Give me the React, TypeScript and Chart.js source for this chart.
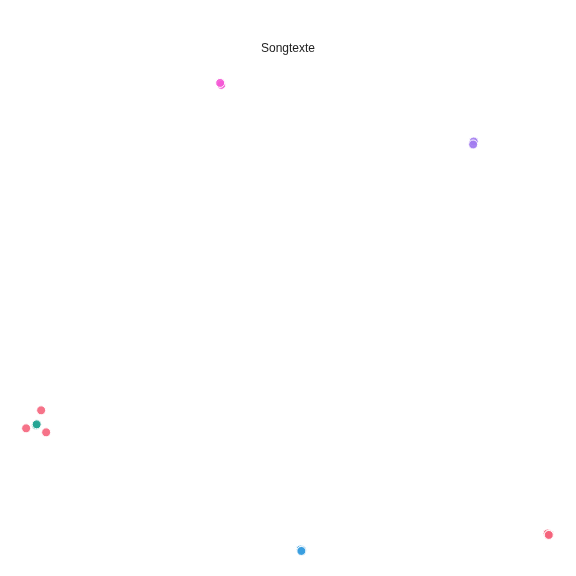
import React, { useEffect, useRef } from "react";
import { Chart, registerables } from "chart.js";

Chart.register(...registerables);

const titleText = "Songtexte";

const groupNames = ["Rot", "Türkis", "Blau", "Lila", "Pink"];
const groupColors = ["#f5647c", "#22a493", "#3a9fe0", "#a27cf0", "#f55ad6"];

const redX = [5.6, 2.9, 6.5, 96.7, 97.0, 96.9];
const redY = [31.1, 27.5, 26.7, 6.5, 6.3, 6.2];
const tealX = [4.7, 4.8];
const tealY = [28.1, 28.3];
const blueX = [52.3, 52.5, 52.4];
const blueY = [3.3, 3.1, 3.0];
const purpleX = [83.3, 83.4, 83.3];
const purpleY = [84.4, 84.8, 84.2];
const pinkX = [37.9, 38.0, 37.8];
const pinkY = [96.3, 96.1, 96.5];

const xs = [redX, tealX, blueX, purpleX, pinkX];
const ys = [redY, tealY, blueY, purpleY, pinkY];

export default function App() {
  const ref = useRef<HTMLCanvasElement | null>(null);
  useEffect(() => {
    if (!ref.current) return;
    const chart = new Chart(ref.current, {
      type: "scatter",
      data: {
        datasets: groupNames.map((name, i) => ({
          label: name,
          data: xs[i].map((x, j) => ({ x, y: ys[i][j] })),
          backgroundColor: groupColors[i] + "e6",
          borderColor: "#ffffff",
          borderWidth: 1,
          pointRadius: 4.5,
        })),
      },
      options: {
        animation: false,
        responsive: false,
        layout: { padding: { top: 31, left: 10, right: 10, bottom: 10 } },
        plugins: {
          legend: { display: false },
          tooltip: { enabled: false },
          title: {
            display: true,
            text: titleText,
            color: "#222222",
            font: { family: "Liberation Sans, Arial, sans-serif", size: 12, weight: "normal" },
            padding: { top: 10, bottom: 10 },
          },
        },
        scales: {
          x: { type: "linear", min: 0, max: 100, display: false },
          y: { type: "linear", min: 0, max: 100, display: false },
        },
      },
    });
    return () => chart.destroy();
  }, []);
  return (
    <div style={{ position: "fixed", left: 0, top: 0, width: 576, height: 576, background: "#fff" }}>
      <canvas ref={ref} width={576} height={576} style={{ width: 576, height: 576 }} />
    </div>
  );
}
